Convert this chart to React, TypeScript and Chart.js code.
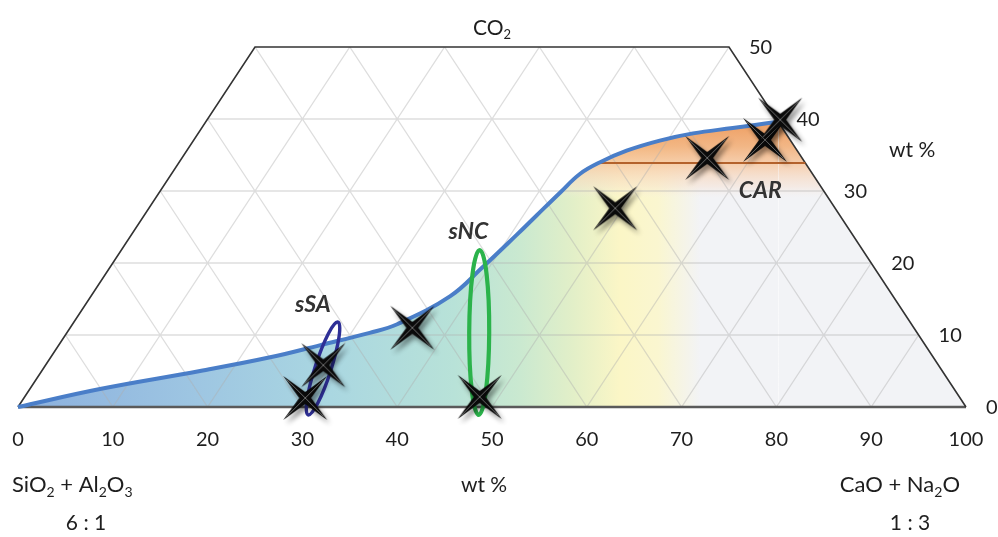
import React, { useEffect, useRef } from "react";
import { Chart, registerables } from "chart.js";

Chart.register(...registerables);

// ---------- data ----------
const BOTTOM_TICKS = [0, 10, 20, 30, 40, 50, 60, 70, 80, 90, 100];
const SIDE_TICKS = [0, 10, 20, 30, 40, 50];
const GRID_STEPS = [10, 20, 30, 40, 50, 60, 70, 80, 90];
const CO2_MAX = 50;

// boundary curve (x = horizontal position along bottom axis, y = CO2 wt%)
const CURVE_X = [0, 8.65, 19.2, 26.6, 31.9, 37.1, 40.0, 45.6, 49.0, 52.6, 54.7, 57.2, 59.3, 61.4, 64.2, 67.7, 71.2, 75.4, 79.0, 80.2];
const CURVE_CO2 = [0, 2.5, 5.0, 6.9, 8.6, 10.3, 11.5, 15.4, 19.4, 23.9, 26.6, 29.8, 32.4, 34.0, 35.6, 37.0, 38.0, 38.75, 39.4, 39.6];

// samples (stars)
const STAR_X = [30.3, 32.2, 41.6, 48.7, 63.0, 72.7, 78.8, 80.4];
const STAR_CO2 = [1.25, 5.8, 11.0, 1.4, 27.6, 34.6, 37.1, 39.9];

// CAR band
const CAR_LINE_CO2 = 33.9;
const CAR_BAND_LOW = 29;

// group ellipses: [x1, co2_1, x2, co2_2]
const SSA_AXIS = [30.6, -1.1, 33.75, 11.8];
const SNC_AXIS = [48.6, -1.1, 48.7, 21.8];

// group labels
const GROUP_LABELS = ["sSA", "sNC", "CAR"];
const GROUP_LABEL_X = [31.1, 47.5, 78.3];
const GROUP_LABEL_CO2 = [14.2, 24.4, 30.1];

const FONT = "Lato, 'Open Sans', sans-serif";
const TENSION = 0.4;

type Part = [string, boolean];

function drawRich(ctx: CanvasRenderingContext2D, parts: Part[], x: number, y: number, align: string, size: number) {
  const main = `${size}px ${FONT}`;
  const sub = `${Math.round(size * 0.62)}px ${FONT}`;
  let w = 0;
  for (const [t, s] of parts) {
    ctx.font = s ? sub : main;
    w += ctx.measureText(t).width;
  }
  let cx = align === "center" ? x - w / 2 : align === "right" ? x - w : x;
  ctx.textAlign = "left";
  ctx.textBaseline = "middle";
  for (const [t, s] of parts) {
    ctx.font = s ? sub : main;
    ctx.fillText(t, cx, s ? y + size * 0.32 : y);
    cx += ctx.measureText(t).width;
  }
}

function makeStar(): HTMLCanvasElement {
  const s = 90;
  const c = document.createElement("canvas");
  c.width = s;
  c.height = s;
  const g = c.getContext("2d")!;
  const cx = s / 2, cy = s / 2;
  const R = 31, r = 6;
  const path = () => {
    g.beginPath();
    for (let i = 0; i < 4; i++) {
      const a = Math.PI / 4 + (i * Math.PI) / 2;
      const b = a + Math.PI / 4;
      const tx = cx + R * Math.cos(a), ty = cy + R * Math.sin(a);
      const ix = cx + r * Math.cos(b), iy = cy + r * Math.sin(b);
      if (i === 0) g.moveTo(tx, ty); else g.lineTo(tx, ty);
      g.lineTo(ix, iy);
    }
    g.closePath();
  };
  g.save();
  g.shadowColor = "rgba(0,0,0,0.45)";
  g.shadowBlur = 5;
  g.shadowOffsetX = 3;
  g.shadowOffsetY = 4;
  path();
  g.fillStyle = "#0a0a0a";
  g.fill();
  g.restore();
  // ridges
  g.strokeStyle = "rgba(150,150,150,0.7)";
  g.lineWidth = 1;
  for (let i = 0; i < 2; i++) {
    const a = Math.PI / 4 + (i * Math.PI) / 2;
    g.beginPath();
    g.moveTo(cx + (R - 5) * Math.cos(a), cy + (R - 5) * Math.sin(a));
    g.lineTo(cx - (R - 5) * Math.cos(a), cy - (R - 5) * Math.sin(a));
    g.stroke();
  }
  return c;
}

const pts = (xs: number[], ys: number[]) => xs.map((x, i) => ({ x, y: ys[i] }));

export default function App() {
  const ref = useRef<HTMLCanvasElement | null>(null);

  useEffect(() => {
    document.body.style.margin = "0";
    const canvas = ref.current!;
    const curve = pts(CURVE_X, CURVE_CO2);
    const last = curve[curve.length - 1];

    // grid segments
    const grid: any[] = [];
    const seg = (x1: number, y1: number, x2: number, y2: number) => {
      grid.push({ x: x1, y: y1 }, { x: x2, y: y2 }, { x: x2, y: null });
    };
    for (const c of GRID_STEPS) {
      if (c < CO2_MAX) seg(c / 2, c, 100 - c / 2, c);
    }
    for (const k of GRID_STEPS) {
      const e1 = Math.min(CO2_MAX, 100 - k);
      seg(k, 0, k + e1 / 2, e1);
      const e2 = Math.min(CO2_MAX, k);
      seg(k, 0, k - e2 / 2, e2);
    }

    const orangeCurve = curve.filter((p) => p.y >= CAR_BAND_LOW - 3);
    const carStartIdx = CURVE_CO2.findIndex((v) => v >= CAR_LINE_CO2);
    const carStartX = CURVE_X[carStartIdx];

    const baseGradient = (ctx: any) => {
      const ca = ctx.chart.chartArea;
      if (!ca) return "transparent";
      const g = ctx.chart.ctx.createLinearGradient(ca.left, 0, ca.right, 0);
      g.addColorStop(0, "rgb(139,176,222)");
      g.addColorStop(0.19, "rgb(158,198,226)");
      g.addColorStop(0.33, "rgb(170,215,225)");
      g.addColorStop(0.46, "rgb(184,226,216)");
      g.addColorStop(0.53, "rgb(202,233,208)");
      g.addColorStop(0.585, "rgb(226,239,200)");
      g.addColorStop(0.635, "rgb(251,246,198)");
      g.addColorStop(0.675, "rgb(250,246,208)");
      g.addColorStop(0.72, "rgb(242,243,246)");
      g.addColorStop(1, "rgb(242,243,246)");
      return g;
    };
    const orangeGradient = (ctx: any) => {
      const chart = ctx.chart;
      const ca = chart.chartArea;
      if (!ca) return "transparent";
      const ys = chart.scales.y;
      const g = chart.ctx.createLinearGradient(0, ys.getPixelForValue(40), 0, ys.getPixelForValue(CAR_BAND_LOW));
      g.addColorStop(0, "rgba(238,150,84,0.95)");
      g.addColorStop(0.35, "rgba(242,176,122,0.9)");
      g.addColorStop(0.55, "rgba(246,198,158,0.85)");
      g.addColorStop(0.62, "rgba(247,206,172,0.8)");
      g.addColorStop(0.85, "rgba(247,222,204,0.45)");
      g.addColorStop(1, "rgba(246,236,230,0)");
      return g;
    };

    const starImg = makeStar();

    const chart = new Chart(canvas, {
      type: "line",
      data: {
        datasets: [
          {
            label: "stars",
            data: pts(STAR_X, STAR_CO2),
            showLine: false,
            pointStyle: starImg as any,
            pointRadius: 15,
            order: 1,
            clip: false as any,
          },
          {
            label: "curve",
            data: curve,
            borderColor: "#4a7ec8",
            borderWidth: 4,
            fill: false,
            tension: TENSION,
            pointRadius: 0,
            order: 2,
            clip: false as any,
          },
          {
            label: "car-line",
            data: [{ x: carStartX, y: CAR_LINE_CO2 }, { x: 100 - CAR_LINE_CO2 / 2, y: CAR_LINE_CO2 }],
            borderColor: "#b4622c",
            borderWidth: 2,
            pointRadius: 0,
            fill: false,
            order: 3,
          },
          {
            label: "outline",
            data: [{ x: 0, y: 0 }, { x: 25, y: CO2_MAX }, { x: 75, y: CO2_MAX }, { x: 100, y: 0 }],
            borderColor: "#333333",
            borderWidth: 1.6,
            pointRadius: 0,
            fill: false,
            tension: 0,
            order: 4,
            clip: false as any,
          },
          {
            label: "bottom",
            data: [{ x: 0, y: 0 }, { x: 100, y: 0 }],
            borderColor: "#5a5a5a",
            borderWidth: 2.5,
            pointRadius: 0,
            fill: false,
            order: 4,
            clip: false as any,
          },
          {
            label: "grid",
            data: grid,
            borderColor: "rgba(175,175,175,0.42)",
            borderWidth: 1.3,
            pointRadius: 0,
            spanGaps: false,
            fill: false,
            tension: 0,
            order: 5,
          },
          {
            label: "orange-curve",
            data: orangeCurve,
            borderWidth: 0,
            borderColor: "transparent",
            backgroundColor: orangeGradient,
            fill: { value: CAR_BAND_LOW } as any,
            tension: TENSION,
            pointRadius: 0,
            order: 6,
          },
          {
            label: "orange-edge",
            data: [last, { x: 100 - CAR_BAND_LOW / 2, y: CAR_BAND_LOW }],
            borderWidth: 0,
            borderColor: "transparent",
            backgroundColor: orangeGradient,
            fill: { value: CAR_BAND_LOW } as any,
            tension: 0,
            pointRadius: 0,
            order: 6,
          },
          {
            label: "base-curve",
            data: curve,
            borderWidth: 0,
            borderColor: "transparent",
            backgroundColor: baseGradient,
            fill: "origin",
            tension: TENSION,
            pointRadius: 0,
            order: 7,
          },
          {
            label: "base-edge",
            data: [last, { x: 100, y: 0 }],
            borderWidth: 0,
            borderColor: "transparent",
            backgroundColor: baseGradient,
            fill: "origin",
            tension: 0,
            pointRadius: 0,
            order: 7,
          },
        ],
      },
      options: {
        animation: false,
        responsive: false,
        maintainAspectRatio: false,
        layout: { padding: { left: 18, right: 32, top: 47, bottom: 130 } },
        scales: {
          x: { type: "linear", min: 0, max: 100, display: false },
          y: { type: "linear", min: 0, max: CO2_MAX, display: false },
        },
        plugins: { legend: { display: false }, tooltip: { enabled: false } },
        elements: { point: { radius: 0 } },
      },
      plugins: [
        {
          id: "ellipses",
          beforeDatasetDraw(chart: any, args: any) {
            if (chart.data.datasets[args.index].label !== "stars") return;
            const { ctx, scales } = chart;
            const draw = (a: number[], semiMinor: number, color: string, lw: number) => {
              const x1 = scales.x.getPixelForValue(a[0]), y1 = scales.y.getPixelForValue(a[1]);
              const x2 = scales.x.getPixelForValue(a[2]), y2 = scales.y.getPixelForValue(a[3]);
              const cx = (x1 + x2) / 2, cy = (y1 + y2) / 2;
              const len = Math.hypot(x2 - x1, y2 - y1) / 2;
              const ang = Math.atan2(y2 - y1, x2 - x1);
              ctx.save();
              ctx.beginPath();
              ctx.ellipse(cx, cy, len, semiMinor, ang, 0, Math.PI * 2);
              ctx.strokeStyle = color;
              ctx.lineWidth = lw;
              ctx.stroke();
              ctx.restore();
            };
            draw(SSA_AXIS, 8, "#2e2f96", 3.4);
            draw(SNC_AXIS, 10, "#2bb34b", 4.2);
          },
        },
        {
          id: "texts",
          afterDraw(chart: any) {
            const { ctx, scales, chartArea: ca } = chart;
            const xs = scales.x, ys = scales.y;
            ctx.save();
            ctx.fillStyle = "#1e1e1e";
            // bottom ticks
            ctx.font = `20px ${FONT}`;
            ctx.textAlign = "center";
            ctx.textBaseline = "middle";
            for (const t of BOTTOM_TICKS) ctx.fillText(String(t), xs.getPixelForValue(t), ca.bottom + 33);
            // side ticks along the right edge
            ctx.textAlign = "left";
            for (const c of SIDE_TICKS) {
              ctx.fillText(String(c), xs.getPixelForValue(100 - c / 2) + 20, ys.getPixelForValue(c) + 1);
            }
            // axis titles
            drawRich(ctx, [["CO", false], ["2", true]], (ca.left + ca.right) / 2, 28, "center", 21);
            drawRich(ctx, [["wt %", false]], 889, 150, "left", 21);
            drawRich(ctx, [["SiO", false], ["2", true], [" + Al", false], ["2", true], ["O", false], ["3", true]], 12, 485, "left", 22);
            drawRich(ctx, [["wt %", false]], 484, 485, "center", 21);
            drawRich(ctx, [["CaO + Na", false], ["2", true], ["O", false]], 960, 485, "right", 22);
            drawRich(ctx, [["6 : 1", false]], 86, 523, "center", 21);
            drawRich(ctx, [["1 : 3", false]], 910, 523, "center", 21);
            // group labels
            ctx.fillStyle = "#333";
            ctx.font = `italic bold 23px ${FONT}`;
            ctx.textAlign = "center";
            ctx.textBaseline = "middle";
            GROUP_LABELS.forEach((l, i) => {
              ctx.fillText(l, xs.getPixelForValue(GROUP_LABEL_X[i]), ys.getPixelForValue(GROUP_LABEL_CO2[i]));
            });
            ctx.restore();
          },
        },
      ],
    });
    return () => chart.destroy();
  }, []);

  return <canvas ref={ref} width={998} height={537} style={{ display: "block" }} />;
}
